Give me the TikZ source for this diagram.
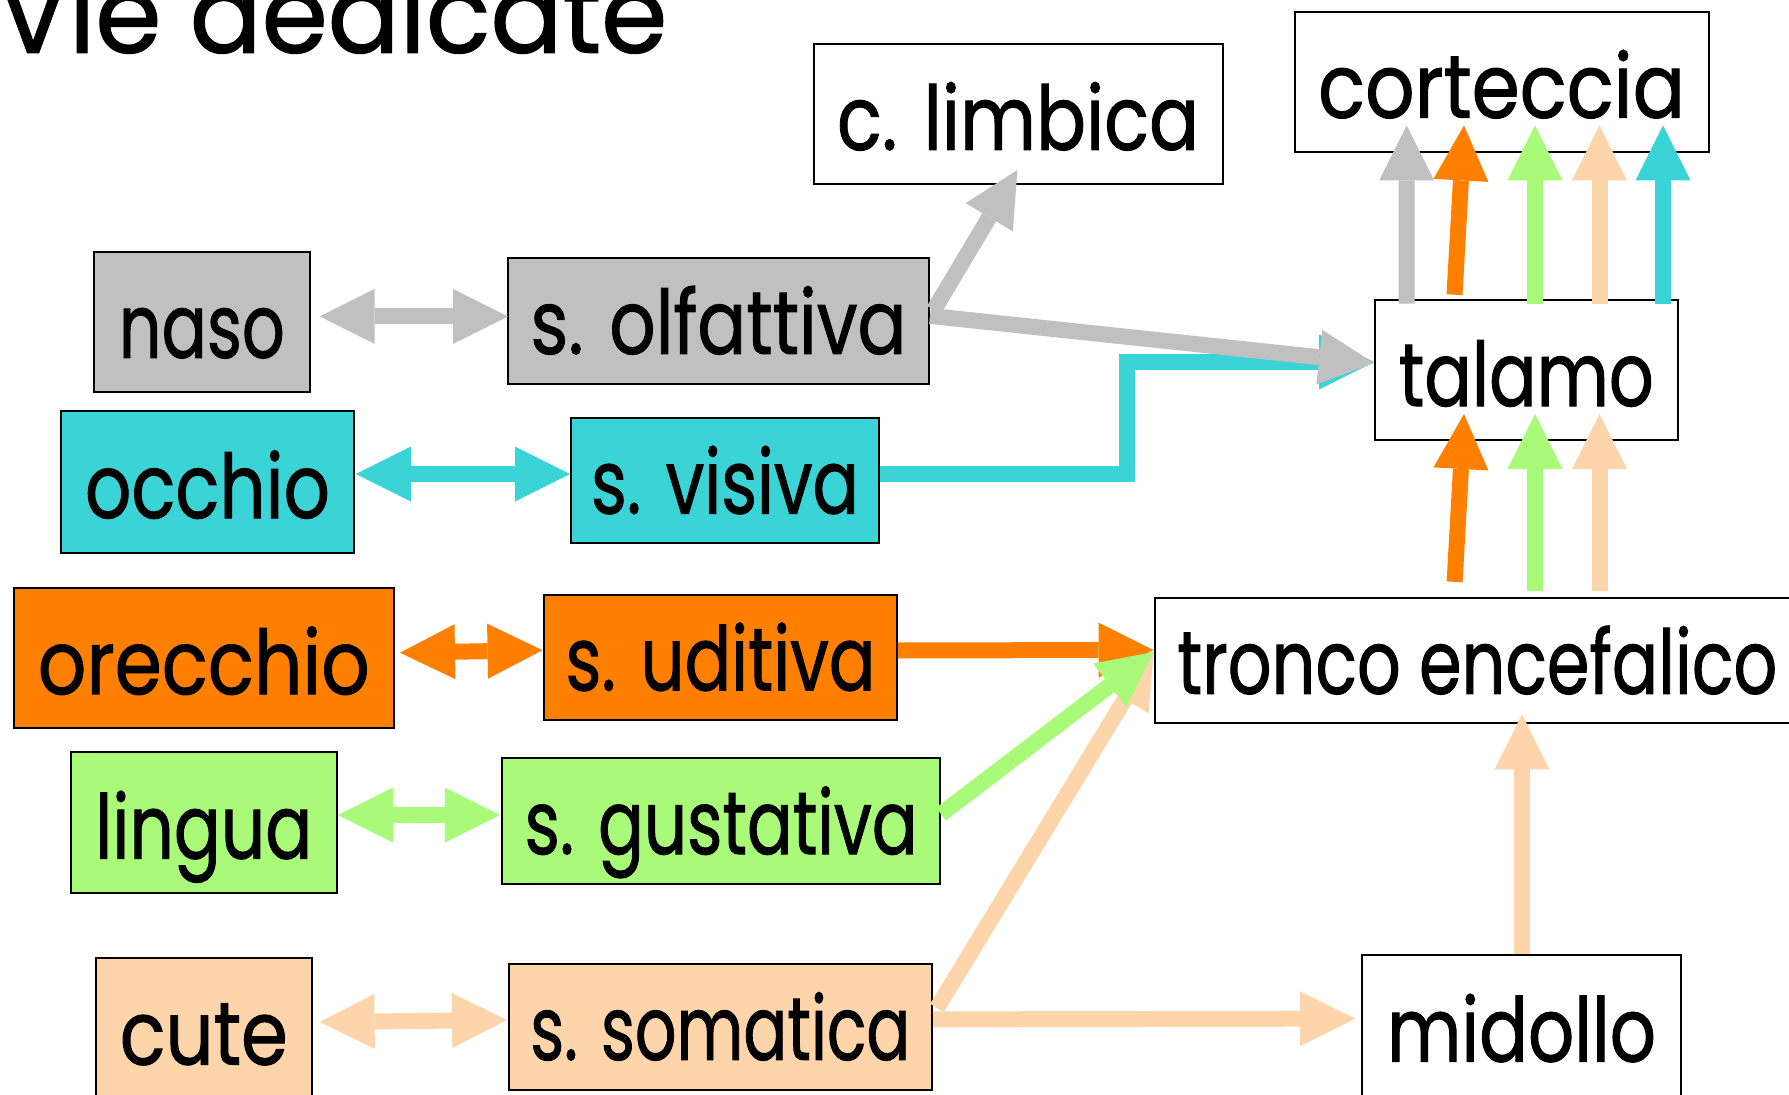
\documentclass[tikz,border=0pt]{standalone}
\usepackage{graphicx}
\usepackage{fontspec}
\setmainfont{Poppins}[FakeBold=1.2]
\usetikzlibrary{arrows.meta,calc}
\definecolor{cgray}{HTML}{C0C0C0}
\definecolor{ccyan}{HTML}{3AD4D6}
\definecolor{corange}{HTML}{FF8000}
\definecolor{cgreen}{HTML}{A8FA78}
\definecolor{cpeach}{HTML}{FED5AA}
\newcommand\tw[2]{\resizebox{#1pt}{\height}{#2}}
\begin{document}
\begin{tikzpicture}[x=1pt,y=-1pt,
  box/.style={draw=black,line width=2pt,inner sep=0pt,font=\fontsize{89}{100}\selectfont,text depth=0pt},
  tall/.style={box,text height=72pt},
  short/.style={box,text height=66pt},
  tipa/.tip={Triangle[length=55pt,width=55pt,line width=0pt]},
  conn/.style={line width=16pt,-tipa},
  dconn/.style={line width=16pt,tipa-tipa},
]
\useasboundingbox (0,0) rectangle (1789,1095);
\node[anchor=base west,inner sep=0pt,font=\fontsize{109}{120}\selectfont] (title) at (-3,52.6) {\tw{670}{Vie dedicate}};

\node[tall,fill=cgray,minimum width=216.4pt,minimum height=140.5pt] (naso) at (201.8,321.75) {\tw{166}{naso}};
\node[short,fill=cgray,minimum width=421pt,minimum height=126.2pt] (solf) at (718.5,320.9) {\tw{376}{s. olfattiva}};
\node[tall,fill=ccyan,minimum width=292.2pt,minimum height=141.3pt] (occ) at (207.5,482) {\tw{245}{occhio}};
\node[short,fill=ccyan,minimum width=308pt,minimum height=125pt] (svis) at (725,480.5) {\tw{268}{s. visiva}};
\node[tall,fill=white,minimum width=409pt,minimum height=140pt] (limb) at (1018,113.8) {\tw{362}{c. limbica}};
\node[tall,fill=white,minimum width=414pt,minimum height=140.3pt] (cort) at (1501.6,81.7) {\tw{367}{corteccia}};
\node[tall,fill=white,minimum width=302.6pt,minimum height=140pt] (tal) at (1526.3,370) {\tw{255}{talamo}};
\node[tall,fill=corange,minimum width=380pt,minimum height=140.6pt] (orec) at (203.8,658.1) {\tw{332}{orecchio}};
\node[short,fill=corange,minimum width=352.7pt,minimum height=125.2pt] (sudi) at (720.5,657.4) {\tw{310}{s. uditiva}};
\node[short,fill=white,minimum width=645.4pt,minimum height=125pt] (tron) at (1477.3,660.75) {\tw{600}{tronco encefalico}};
\node[tall,fill=cgreen,minimum width=266.4pt,minimum height=141.3pt] (ling) at (203.8,822.6) {\tw{217}{lingua}};
\node[short,fill=cgreen,minimum width=437.7pt,minimum height=126.2pt] (sgus) at (721.1,821.1) {\tw{393}{s. gustativa}};
\node[tall,fill=cpeach,minimum width=215.8pt,minimum height=140.5pt] (cute) at (203.8,1028.5) {\tw{168}{cute}};
\node[short,fill=cpeach,minimum width=423.4pt,minimum height=125.7pt] (ssom) at (720.3,1026.9) {\tw{380}{s. somatica}};
\node[tall,fill=white,minimum width=319pt,minimum height=140.5pt] (mid) at (1521.5,1025.6) {\tw{269}{midollo}};

% sense organ <-> stations
\draw[dconn,cgray] ($(naso.east)+(8.6,-5.35)$) -- ($(solf.west)+(1,-4.5)$);
\draw[dconn,ccyan] ($(occ.east)+(1.2,-8)$) -- ($(svis.west)+(0,-6.5)$);
\draw[dconn,corange] ($(orec.east)+(5.2,-5.4)$) -- ($(sudi.west)+(-0.6,-7.2)$);
\draw[dconn,cgreen] ($(ling.east)+(0,-7.6)$) -- ($(sgus.west)+(-1.3,-6.1)$);
\draw[dconn,cpeach] ($(cute.east)+(6.9,-6.5)$) -- ($(ssom.west)+(-0.6,-6.9)$);

% visual pathway
\coordinate (knee) at (1127,362);
\draw[conn,ccyan] ($(svis.east)+(0,-6.1)$) -| (knee) -- ($(tal.west)+(0,-8)$);
% olfactory
\draw[conn,cgray] ($(solf.east)+(4,-11)$) -- ($(limb.south)+(-0.6,-14.8)$);
\draw[conn,cgray] ($(solf.east)+(0,-5)$) -- ($(tal.west)+(0,-7)$);

% to tronco
\draw[conn,corange] ($(sudi.east)+(0,-7)$) -- ($(tron.west)+(0,-10.7)$);
\draw[conn,cpeach] ($(ssom.east)+(4,-19)$) -- ($(tron.west)+(0,-8.7)$);
\draw[conn,cgreen] ($(sgus.east)+(0,-7)$) -- ($(tron.west)+(0,-8.7)$);

% somatica -> midollo -> tronco
\draw[conn,cpeach] ($(ssom.east)+(0,-7.5)$) -- ($(mid.west)+(-6,-7)$);
\draw[conn,cpeach] ($(mid.north)+(0.5,0)$) -- ($(mid.north |- tron.south)+(0.5,-9.8)$);

% tronco -> talamo
\draw[conn,corange] ($(tron.north)+(-22.7,-15.4)$) -- ($(tal.south)+(-62.3,-27)$);
\draw[conn,cgreen] ($(tron.north)+(57.7,-5.9)$) -- ($(tal.south)+(8.7,-27)$);
\draw[conn,cpeach] ($(tron.north)+(122.2,-5.9)$) -- ($(tal.south)+(73.2,-27)$);

% talamo -> corteccia
\draw[conn,cgray] ($(tal.north)+(-119.6,4.5)$) -- ($(cort.south)+(-94.9,-27.4)$);
\draw[conn,corange] ($(tal.north)+(-71.8,-4.3)$) -- ($(cort.south)+(-37.6,-27.4)$);
\draw[conn,cgreen] ($(tal.north)+(8.7,4.5)$) -- ($(cort.south)+(33.4,-27.4)$);
\draw[conn,cpeach] ($(tal.north)+(73.2,4.5)$) -- ($(cort.south)+(97.9,-27.4)$);
\draw[conn,ccyan] ($(tal.north)+(136.7,4.5)$) -- ($(cort.south)+(161.4,-27.4)$);
\end{tikzpicture}
\end{document}
